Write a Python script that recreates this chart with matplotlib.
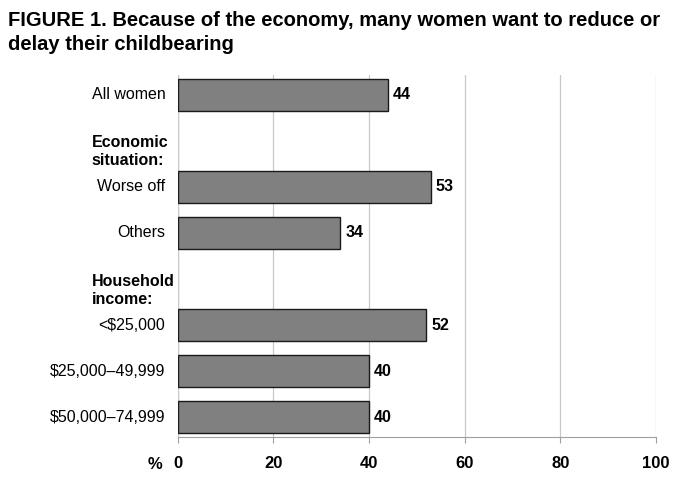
import matplotlib.pyplot as plt

plt.rcParams["font.family"] = ["Liberation Sans", "DejaVu Sans"]

# slots 0..7 from top; headers sit in empty slots
labels = ["All women", "", "Worse off", "Others", "",
          "<$25,000", "$25,000–49,999", "$50,000–74,999"]
values = [44, None, 53, 34, None, 52, 40, 40]
headers = {1: "Economic\nsituation:", 4: "Household\nincome:"}
xticks = [0, 20, 40, 60, 80, 100]

fig = plt.figure(figsize=(7, 4.78), dpi=100)
ax = fig.add_axes([0.254, 0.086, 0.683, 0.757])

for i, v in enumerate(values):
    if v is None:
        continue
    ax.barh(i, v, height=0.69, color="#808080", edgecolor="#1a1a1a",
            linewidth=1.0, zorder=3)
    ax.text(v + 1.0, i, str(v), va="center", ha="left", fontsize=11.5,
            fontweight="bold", zorder=4)

ax.set_ylim(7.43, -0.43)
ax.set_xlim(0, 100)
ax.set_yticks([])
ax.set_xticks(xticks)
ax.set_xticklabels([str(t) for t in xticks], fontsize=12, fontweight="bold")
ax.tick_params(axis="x", length=4, color="#a0a0a0", pad=10)
ax.grid(axis="x", color="#c8c8c8", linewidth=0.9, zorder=0)
ax.axvline(0, color="#c8c8c8", linewidth=0.9, zorder=1)

for s in ["top", "right", "left"]:
    ax.spines[s].set_visible(False)
ax.spines["bottom"].set_color("#a0a0a0")

for i, lab in enumerate(labels):
    if lab:
        ax.text(-2.6, i, lab, ha="right", va="center", fontsize=11.5,
                transform=ax.transData, clip_on=False)
for i, h in headers.items():
    ax.text(-18.0, i + 0.24, h, ha="left", va="center", fontsize=11.5,
            fontweight="bold", linespacing=1.25, clip_on=False)

ax.text(-4.8, -0.055, "%", transform=ax.get_xaxis_transform(), ha="center",
        va="top", fontsize=12, fontweight="bold")

fig.text(0.011, 0.978, "FIGURE 1. Because of the economy, many women want to reduce or\n"
         "delay their childbearing", ha="left", va="top", fontsize=14.5,
         fontweight="bold", linespacing=1.38)

fig.savefig("out.png", dpi=100)
